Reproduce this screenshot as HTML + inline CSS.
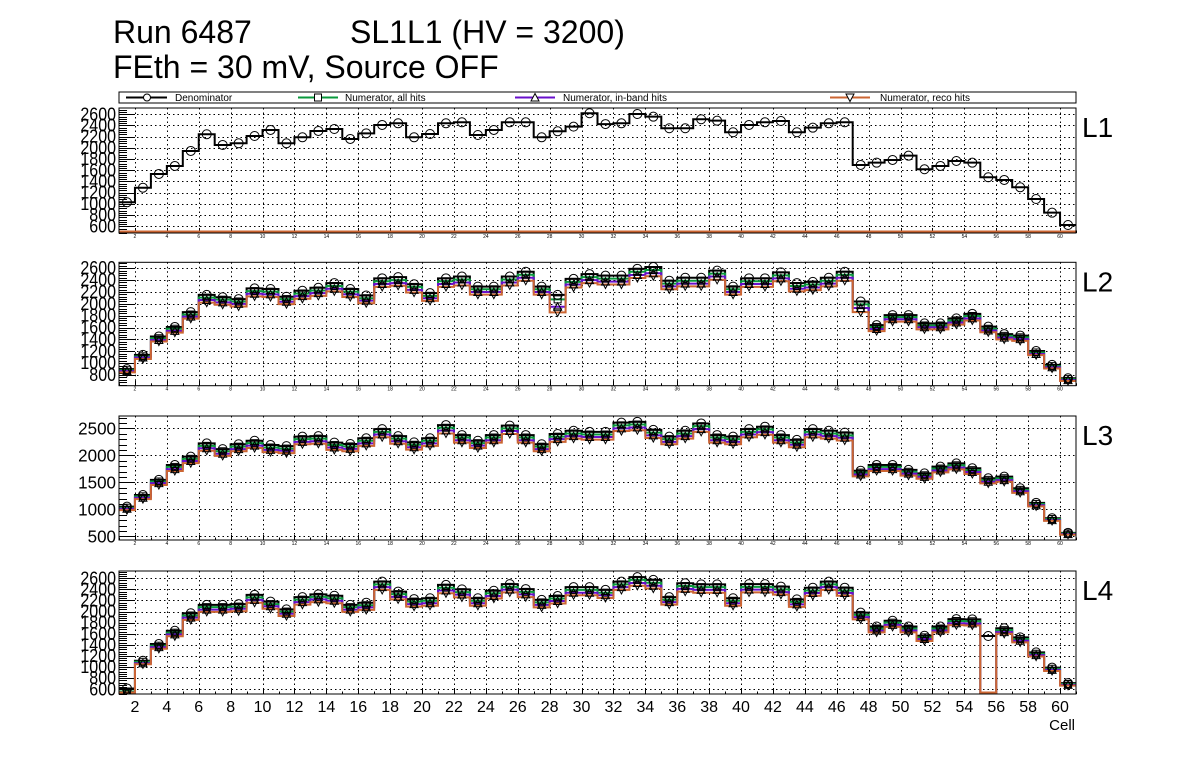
<!DOCTYPE html>
<html><head><meta charset="utf-8"><style>
html,body{margin:0;padding:0;background:#fff;}
svg{display:block;font-family:"Liberation Sans",Arial,sans-serif;}
</style></head><body>
<svg id="c" width="1196" height="772" viewBox="0 0 1196 772" xmlns="http://www.w3.org/2000/svg">
<rect x="0" y="0" width="1196" height="772" fill="#fff"/>
<text x="113" y="43" font-size="32">Run 6487</text>
<text x="350" y="43" font-size="32">SL1L1 (HV = 3200)</text>
<text x="113" y="78" font-size="32">FEth = 30 mV, Source OFF</text>
<g>
<rect x="119" y="92" width="957" height="11" fill="#fff" stroke="#000" stroke-width="1"/>
<g>
<line x1="126" y1="97.5" x2="167" y2="97.5" stroke="#000" stroke-width="2"/><circle cx="147" cy="97.5" r="3.5" fill="#fff" stroke="#000"/>
<text x="175" y="101" font-size="10">Denominator</text></g>
<g>
<line x1="298" y1="97.5" x2="338" y2="97.5" stroke="#0a9a3c" stroke-width="2"/><rect x="314.5" y="94" width="7" height="7" fill="#fff" stroke="#000"/>
<text x="345" y="101" font-size="10">Numerator, all hits</text></g>
<g>
<line x1="515" y1="97.5" x2="555" y2="97.5" stroke="#6a10cc" stroke-width="2"/><path d="M535 93.5 L539 101 L531 101 Z" fill="#fff" stroke="#000"/>
<text x="563" y="101" font-size="10">Numerator, in-band hits</text></g>
<g>
<line x1="830" y1="97.5" x2="870" y2="97.5" stroke="#cc6633" stroke-width="2"/><path d="M846 94 L854 94 L850 101.5 Z" fill="#fff" stroke="#000"/>
<text x="880" y="101" font-size="10">Numerator, reco hits</text></g>
</g>
<g id="panels"></g>
<text x="1075" y="730" font-size="15" text-anchor="end">Cell</text>
</svg>
<script>
// ---- data (60 cells, 1..60) ----
const cells = [];
for (let i = 1; i <= 60; i++) cells.push(i);

const l1Den = [1028,1289,1534,1677,1945,2243,2052,2082,2212,2320,2082,2189,2302,2337,2159,2260,2409,2439,2189,2248,2439,2457,2230,2320,2457,2457,2189,2296,2379,2618,2425,2439,2605,2557,2350,2350,2511,2486,2279,2409,2457,2480,2279,2361,2439,2457,1695,1736,1784,1861,1618,1677,1766,1736,1475,1427,1296,1087,843,623];
const l1All = [0,0,0,0,0,0,0,0,0,0,0,0,0,0,0,0,0,0,0,0,0,0,0,0,0,0,0,0,0,0,0,0,0,0,0,0,0,0,0,0,0,0,0,0,0,0,0,0,0,0,0,0,0,0,0,0,0,0,0,0];
const l1Band = [0,0,0,0,0,0,0,0,0,0,0,0,0,0,0,0,0,0,0,0,0,0,0,0,0,0,0,0,0,0,0,0,0,0,0,0,0,0,0,0,0,0,0,0,0,0,0,0,0,0,0,0,0,0,0,0,0,0,0,0];
const l1Reco = [0,0,0,0,0,0,0,0,0,0,0,0,0,0,0,0,0,0,0,0,0,0,0,0,0,0,0,0,0,0,0,0,0,0,0,0,0,0,0,0,0,0,0,0,0,0,0,0,0,0,0,0,0,0,0,0,0,0,0,0];

const l2Den = [900,1140,1450,1610,1860,2150,2110,2080,2260,2250,2120,2220,2270,2350,2250,2140,2430,2450,2330,2180,2430,2460,2290,2290,2460,2540,2290,2150,2420,2500,2475,2475,2590,2620,2390,2440,2440,2560,2290,2430,2430,2530,2350,2370,2440,2540,2040,1640,1810,1810,1670,1670,1755,1830,1615,1490,1465,1205,970,745];
const l2All = [880,1115,1420,1580,1820,2105,2070,2040,2215,2205,2080,2175,2225,2300,2205,2095,2380,2400,2285,2135,2380,2410,2245,2245,2410,2490,2245,2075,2370,2450,2425,2425,2540,2570,2340,2390,2390,2510,2245,2380,2380,2480,2300,2325,2390,2490,1990,1610,1775,1775,1635,1635,1720,1795,1580,1460,1435,1180,950,730];
const l2Band = [865,1095,1390,1545,1785,2065,2025,2000,2170,2160,2035,2130,2180,2255,2160,2055,2335,2350,2235,2095,2335,2360,2200,2200,2360,2440,2200,1950,2325,2400,2375,2375,2485,2515,2295,2340,2340,2460,2200,2335,2335,2430,2255,2275,2340,2440,1930,1575,1740,1740,1605,1605,1685,1755,1550,1430,1405,1155,930,715];
const l2Reco = [845,1070,1365,1515,1750,2020,1985,1955,2125,2115,1995,2085,2135,2210,2115,2010,2285,2305,2190,2050,2285,2310,2155,2155,2310,2390,2155,1855,2275,2350,2325,2325,2435,2465,2245,2295,2295,2405,2155,2285,2285,2380,2210,2230,2295,2390,1860,1540,1700,1700,1570,1570,1650,1720,1520,1400,1375,1135,910,700];

const l3Den = [1050,1265,1545,1820,1975,2220,2115,2205,2270,2190,2170,2345,2355,2235,2210,2315,2485,2355,2240,2315,2560,2375,2270,2375,2550,2375,2205,2395,2455,2435,2435,2605,2620,2470,2345,2455,2590,2375,2345,2485,2530,2375,2285,2485,2455,2420,1715,1820,1820,1730,1665,1790,1850,1760,1575,1605,1390,1120,835,565];
const l3All = [1030,1240,1515,1785,1935,2175,2075,2160,2225,2145,2125,2300,2310,2190,2165,2270,2435,2310,2195,2270,2510,2330,2225,2330,2500,2330,2160,2345,2405,2385,2385,2555,2570,2420,2300,2405,2540,2330,2300,2435,2480,2330,2240,2435,2405,2370,1680,1785,1785,1695,1630,1755,1815,1725,1545,1575,1360,1100,820,555];
const l3Band = [1010,1215,1485,1745,1895,2130,2030,2115,2180,2100,2085,2250,2260,2145,2120,2220,2385,2260,2150,2220,2460,2280,2180,2280,2450,2280,2115,2300,2355,2340,2340,2500,2515,2370,2250,2355,2485,2280,2250,2385,2430,2280,2195,2385,2355,2325,1645,1745,1745,1660,1600,1720,1775,1690,1510,1540,1335,1075,800,540];
const l3Reco = [985,1190,1450,1710,1855,2085,1990,2075,2135,2060,2040,2205,2215,2100,2075,2175,2335,2215,2105,2175,2405,2235,2135,2235,2395,2235,2075,2250,2310,2290,2290,2450,2465,2320,2205,2310,2435,2235,2205,2335,2380,2235,2150,2335,2310,2275,1610,1710,1710,1625,1565,1685,1740,1655,1480,1510,1305,1055,785,530];

const l4Den = [615,1115,1415,1655,1970,2120,2120,2135,2300,2180,2040,2260,2310,2285,2120,2160,2540,2360,2225,2240,2480,2400,2240,2375,2495,2405,2210,2280,2440,2440,2390,2540,2620,2570,2260,2510,2490,2490,2240,2495,2495,2450,2220,2430,2540,2430,1980,1730,1835,1730,1565,1730,1865,1860,1560,1700,1535,1265,990,710];
const l4All = [560,1095,1385,1620,1930,2080,2080,2090,2255,2135,2000,2215,2265,2240,2080,2115,2490,2315,2180,2195,2430,2350,2195,2330,2445,2355,2165,2235,2390,2390,2340,2490,2570,2520,2215,2460,2440,2440,2195,2445,2445,2400,2175,2380,2490,2380,1940,1695,1800,1695,1535,1695,1830,1825,0,1665,1505,1240,970,695];
const l4Band = [545,1070,1360,1590,1890,2035,2035,2050,2210,2095,1960,2170,2220,2195,2035,2075,2440,2265,2135,2150,2380,2305,2150,2280,2395,2310,2120,2190,2340,2340,2295,2440,2515,2465,2170,2410,2390,2390,2150,2395,2395,2350,2130,2335,2440,2335,1900,1660,1760,1660,1505,1660,1790,1785,0,1630,1475,1215,950,680];
const l4Reco = [525,1050,1330,1555,1850,1995,1995,2005,2160,2050,1920,2125,2170,2150,1995,2030,2390,2220,2090,2105,2330,2255,2105,2235,2345,2260,2075,2145,2295,2295,2245,2390,2465,2415,2125,2360,2340,2340,2105,2345,2345,2305,2085,2285,2390,2285,1860,1625,1725,1625,1470,1625,1755,1750,0,1600,1445,1190,930,665];

const xTickLabels = ["2","4","6","8","10","12","14","16","18","20","22","24","26","28","30","32","34","36","38","40","42","44","46","48","50","52","54","56","58","60"];
const l1YTicks = [600,800,1000,1200,1400,1600,1800,2000,2200,2400,2600];
const l2YTicks = [800,1000,1200,1400,1600,1800,2000,2200,2400,2600];
const l3YTicks = [500,1000,1500,2000,2500];
const l4YTicks = [600,800,1000,1200,1400,1600,1800,2000,2200,2400,2600];
const panelNames = ["L1","L2","L3","L4"];

// ---- layout (not data) ----
const NS = "http://www.w3.org/2000/svg";
const X0 = 119, X1 = 1076, XMIN = 1, XMAX = 61;
const panelsCfg = [
  {top:108, bottom:233, ymin:480, ymax:2712, minor:40, ticks:l1YTicks, series:[l1Den,l1All,l1Band,l1Reco], big:false},
  {top:262.3, bottom:385.7, ymin:620, ymax:2700, minor:40, ticks:l2YTicks, series:[l2Den,l2All,l2Band,l2Reco], big:false},
  {top:416, bottom:540, ymin:432, ymax:2728, minor:100, ticks:l3YTicks, series:[l3Den,l3All,l3Band,l3Reco], big:false},
  {top:571, bottom:694, ymin:515, ymax:2731, minor:40, ticks:l4YTicks, series:[l4Den,l4All,l4Band,l4Reco], big:true}
];
const colors = ["#000000","#0a9a3c","#6a10cc","#cc6633"];
const seriesNames = ["denominator","all-hits","inband-hits","reco-hits"];
function xs(v){ return X0 + (v - XMIN) / (XMAX - XMIN) * (X1 - X0); }
function mk(tag, attrs, parent){ const e=document.createElementNS(NS,tag); for(const k in attrs) e.setAttribute(k,attrs[k]); parent.appendChild(e); return e; }

const root = document.getElementById("panels");
panelsCfg.forEach((p, pi) => {
  const ys = v => p.top + (p.ymax - v) / (p.ymax - p.ymin) * (p.bottom - p.top);
  const ysl = v => Math.min(ys(v), p.bottom - 1.5);
  const g = mk("g", {}, root);
  
  
  const cid = "clip" + pi;
  const cp = mk("clipPath", {id:cid}, g);
  mk("rect", {x:X0, y:p.top, width:X1-X0, height:p.bottom-p.top}, cp);
  const grid = mk("g", {stroke:"#000", "stroke-width":"1", "stroke-dasharray":"1.5,3"}, g);
  
  
  xTickLabels.forEach(t => { const x = Math.round(xs(+t))+0.5; mk("line",{x1:x,y1:p.top,x2:x,y2:p.bottom},grid); });
  p.ticks.forEach(t => { const y = Math.round(ys(t))+0.5; mk("line",{x1:X0,y1:y,x2:X1,y2:y},grid); });
  const tk = mk("g", {stroke:"#000","stroke-width":"1"}, g);
  for (let v = Math.ceil(p.ymin/p.minor)*p.minor; v <= p.ymax; v += p.minor) {
    const y = Math.round(ys(v))+0.5; const major = p.ticks.indexOf(v) >= 0;
    mk("line",{x1:X0,y1:y,x2:X0+(major?16:8),y2:y},tk);
  }
  for (let c = 1; c <= 61; c++) {
    const x = Math.round(xs(c))+0.5; const major = c % 2 === 0;
    mk("line",{x1:x,y1:p.bottom,x2:x,y2:p.bottom-(major?5:2.5)},tk);
  }
  p.ticks.forEach(t => {
    const big3 = p.ticks===l3YTicks;
    const tx = mk("text",{x:116,y:0,"font-size":big3?"17":"16","text-anchor":"end",
      transform:`translate(0 ${ys(t)+6}) scale(1 ${big3?1.05:1.15})`},g);
    tx.textContent = t;
    
    
  });
  xTickLabels.forEach(t => {
    const tx = mk("text",{x:xs(+t),y:p.big?p.bottom+18:p.bottom+5,"font-size":p.big?"16":"5","text-anchor":"middle"},g);
    tx.textContent = t;
    
    
  });
  const plot = mk("g",{"clip-path":"url(#"+cid+")"},g);
  p.series.forEach((vals, si) => {
    let d = "";
    vals.forEach((v,i) => {
      const xa = xs(cells[i]), xb = xs(cells[i]+1), y = ysl(v);
      d += (i===0 ? "M"+xa+" "+y : " V"+y) + " H"+xb;
    });
    const path = mk("path",{d:d,fill:"none",stroke:colors[si],"stroke-width":"2"},plot);
    
    
  });
  p.series.forEach((vals, si) => {
    vals.forEach((v,i) => {
      if (v < p.ymin || v > p.ymax) return;
      const cx = xs(cells[i]+0.5), cy = ys(v);
      let m;
      if (si===0) m = mk("circle",{cx:cx,cy:cy,r:4.5,fill:"none",stroke:"#000"},plot);
      else if (si===1) m = mk("rect",{x:cx-3.5,y:cy-3.5,width:7,height:7,fill:"none",stroke:"#000"},plot);
      else if (si===2) m = mk("path",{d:`M${cx} ${cy-4} L${cx+4} ${cy+3.5} L${cx-4} ${cy+3.5} Z`,fill:"none",stroke:"#000"},plot);
      else m = mk("path",{d:`M${cx-4} ${cy-3.5} L${cx+4} ${cy-3.5} L${cx} ${cy+4} Z`,fill:"none",stroke:"#000"},plot);
      
      
    });
  });
  const fr = mk("rect",{x:X0,y:p.top,width:X1-X0,height:p.bottom-p.top,fill:"none",stroke:"#000","stroke-width":"1"},g);
  
  
  const lab = mk("text",{x:1082,y:p.top+29,"font-size":"28"},g);
  lab.textContent = panelNames[pi];
  
  
});
</script>
</body></html>
